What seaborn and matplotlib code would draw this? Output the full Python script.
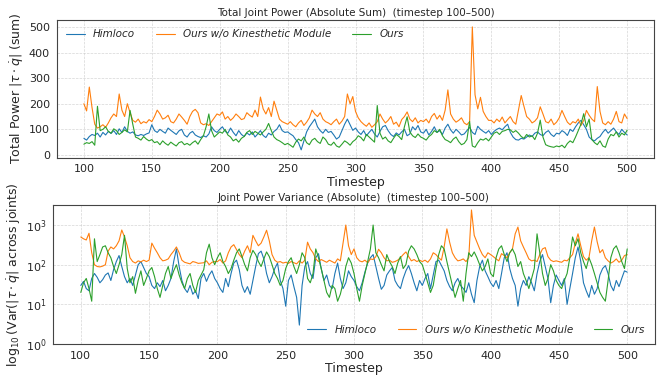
import numpy as np
import pandas as pd
import seaborn as sns
import matplotlib
matplotlib.use('Agg')
import matplotlib.pyplot as plt
from matplotlib.lines import Line2D

# one sample every 2 timesteps
timesteps = np.arange(100, 501, 2)
methods = ['Himloco', 'Ours w/o Kinesthetic Module', 'Ours']
colors = ['#1f77b4', '#ff7f0e', '#2ca02c']
xticks = [100, 150, 200, 250, 300, 350, 400, 450, 500]

# total joint power |tau * qdot| summed over joints
sum_himloco = [
    65, 58, 72, 80, 76, 85, 70, 88, 78, 92, 84, 95, 80, 102, 88, 110, 92, 85, 90, 78, 75, 80, 76, 82, 86,
    118, 95, 88, 100, 92, 85, 105, 96, 88, 80, 94, 100, 78, 70, 85, 92, 78, 72, 68, 75, 70, 82, 110, 95, 88,
    100, 110, 92, 85, 105, 88, 75, 95, 80, 72, 86, 78, 90, 70, 82, 95, 76, 68, 85, 78, 92, 100, 118, 95, 88,
    90, 82, 75, 60, 48, 20, 55, 90, 110, 125, 140, 110, 95, 85, 100, 88, 92, 78, 62, 70, 95, 120, 140, 118, 96,
    105, 90, 80, 95, 75, 88, 100, 82, 70, 92, 110, 115, 95, 80, 72, 86, 78, 90, 100, 75, 82, 110, 98, 115, 90,
    85, 100, 78, 92, 110, 88, 95, 80, 105, 120, 98, 85, 100, 90, 78, 82, 95, 108, 88, 80, 112, 100, 92, 85, 95,
    80, 92, 100, 105, 98, 110, 120, 88, 70, 60, 58, 65, 62, 70, 78, 72, 85, 90, 80, 75, 88, 95, 80, 72, 85,
    82, 95, 88, 76, 100, 92, 110, 125, 135, 118, 100, 70, 60, 55, 65, 72, 88, 100, 85, 95, 105, 90, 80, 100, 88,
    78]
sum_no_kin = [
    200, 172, 265, 185, 120, 105, 110, 118, 108, 125, 145, 160, 150, 238, 175, 150, 200, 165, 135, 128, 140, 122, 130, 125, 138,
    130, 150, 175, 160, 140, 145, 155, 130, 125, 140, 160, 148, 135, 120, 150, 170, 178, 165, 125, 118, 122, 115, 130, 145, 160,
    155, 168, 140, 150, 135, 145, 160, 150, 138, 142, 165, 155, 148, 175, 150, 226, 180, 160, 185, 150, 210, 175, 140, 130, 125,
    120, 130, 118, 110, 125, 135, 115, 128, 145, 175, 160, 150, 165, 140, 130, 125, 118, 130, 140, 120, 132, 150, 238, 200, 228,
    170, 145, 130, 120, 112, 125, 108, 118, 130, 160, 140, 125, 135, 150, 120, 128, 110, 138, 150, 168, 140, 130, 145, 125, 135,
    130, 140, 125, 150, 162, 140, 155, 135, 175, 254, 160, 140, 128, 135, 145, 125, 118, 130, 500, 235, 180, 225, 170, 150, 135,
    135, 125, 140, 130, 148, 125, 138, 150, 130, 120, 175, 232, 190, 150, 140, 125, 132, 145, 188, 160, 130, 125, 140, 118, 128,
    145, 174, 150, 128, 118, 130, 125, 140, 115, 135, 174, 155, 140, 130, 267, 170, 125, 118, 130, 120, 140, 170, 130, 125, 160,
    142]
sum_ours = [
    42, 48, 45, 52, 38, 190, 95, 100, 110, 92, 85, 102, 95, 80, 88, 98, 90, 174, 120, 70, 65, 58, 72, 62, 55,
    60, 48, 52, 40, 55, 45, 38, 50, 42, 35, 48, 52, 40, 45, 38, 48, 55, 42, 60, 75, 110, 160, 95, 70, 80,
    90, 85, 100, 78, 70, 55, 62, 50, 65, 72, 88, 95, 80, 92, 85, 78, 90, 100, 123, 95, 70, 60, 55, 48, 40,
    45, 38, 30, 50, 62, 55, 70, 48, 40, 58, 65, 52, 45, 70, 60, 42, 38, 50, 35, 30, 42, 55, 48, 38, 52,
    60, 75, 68, 55, 80, 70, 60, 50, 193, 85, 62, 70, 55, 48, 65, 80, 72, 60, 110, 149, 90, 75, 68, 82, 70,
    65, 58, 72, 80, 95, 88, 100, 75, 60, 55, 48, 62, 70, 52, 40, 45, 60, 131, 35, 30, 48, 62, 58, 65, 55,
    70, 85, 90, 80, 92, 95, 100, 98, 88, 95, 85, 72, 65, 80, 70, 75, 60, 85, 136, 70, 40, 35, 32, 30, 35,
    32, 38, 28, 45, 55, 48, 70, 95, 120, 161, 110, 140, 60, 48, 40, 55, 35, 30, 62, 80, 75, 90, 70, 85, 78,
    97]

# variance of |tau * qdot| across joints
var_himloco = [
    30, 38, 25, 22, 45, 60, 48, 35, 42, 55, 62, 40, 75, 120, 170, 90, 50, 35, 45, 30, 55, 100, 120, 85, 60,
    50, 30, 25, 35, 28, 40, 22, 30, 45, 120, 250, 90, 40, 25, 20, 30, 18, 22, 14, 45, 60, 38, 55, 70, 45,
    35, 25, 20, 45, 28, 60, 110, 130, 75, 30, 20, 28, 18, 40, 90, 190, 220, 140, 60, 35, 50, 80, 110, 40, 25,
    9, 40, 55, 28, 15, 3, 30, 90, 120, 60, 45, 150, 190, 80, 40, 55, 30, 25, 60, 110, 45, 25, 35, 70, 50,
    40, 28, 22, 35, 65, 110, 150, 180, 90, 45, 24, 30, 55, 70, 85, 40, 30, 25, 45, 70, 95, 60, 35, 22, 40,
    30, 45, 60, 25, 55, 120, 130, 95, 70, 40, 28, 22, 35, 45, 30, 25, 20, 35, 18, 11, 40, 90, 130, 70, 50,
    35, 28, 40, 25, 60, 150, 200, 80, 45, 30, 9, 25, 40, 30, 50, 35, 22, 60, 120, 180, 90, 45, 11, 30, 55,
    40, 30, 45, 10, 25, 60, 150, 280, 120, 35, 22, 15, 30, 18, 25, 55, 80, 95, 60, 30, 22, 40, 28, 45, 70,
    65]
var_no_kin = [
    500, 450, 420, 620, 200, 100, 90, 88, 92, 100, 220, 280, 250, 300, 400, 750, 500, 300, 150, 120, 110, 125, 118, 130, 120,
    130, 350, 260, 200, 150, 125, 130, 140, 180, 220, 280, 200, 130, 115, 110, 105, 120, 115, 108, 110, 112, 125, 100, 115, 120,
    120, 135, 110, 125, 200, 280, 320, 240, 180, 150, 220, 300, 200, 550, 400, 300, 350, 500, 740, 400, 180, 130, 115, 120, 110,
    115, 108, 120, 112, 105, 125, 110, 130, 370, 250, 200, 140, 120, 135, 125, 115, 130, 120, 110, 140, 125, 350, 1000, 300, 180,
    250, 150, 125, 118, 130, 112, 140, 135, 160, 245, 200, 150, 125, 130, 115, 120, 130, 150, 180, 210, 160, 125, 135, 120, 130,
    120, 130, 115, 140, 200, 180, 150, 130, 280, 800, 370, 200, 150, 125, 130, 140, 120, 150, 2400, 550, 370, 250, 180, 150, 200,
    180, 160, 140, 125, 190, 170, 150, 200, 250, 600, 890, 400, 280, 200, 140, 125, 130, 120, 180, 250, 270, 160, 130, 120, 125,
    120, 115, 130, 125, 150, 180, 350, 600, 300, 160, 130, 150, 400, 890, 380, 200, 240, 150, 125, 110, 120, 140, 115, 130, 170,
    180]
var_ours = [
    20, 35, 45, 25, 12, 450, 120, 180, 280, 300, 200, 150, 90, 60, 100, 180, 550, 80, 35, 50, 19, 40, 70, 30, 45,
    70, 85, 50, 25, 15, 30, 60, 90, 45, 70, 100, 55, 35, 25, 45, 60, 30, 20, 40, 55, 75, 200, 330, 150, 100,
    150, 200, 120, 90, 60, 80, 130, 200, 250, 160, 100, 70, 150, 230, 180, 120, 90, 140, 210, 160, 100, 60, 45, 30, 40,
    80, 120, 150, 90, 60, 100, 200, 150, 45, 35, 60, 250, 150, 80, 40, 20, 15, 30, 25, 12, 18, 35, 90, 150, 110,
    60, 25, 12, 30, 60, 120, 250, 1000, 200, 150, 100, 70, 180, 120, 90, 60, 110, 160, 80, 100, 220, 300, 250, 180, 120,
    100, 60, 35, 20, 30, 80, 180, 300, 250, 120, 60, 30, 15, 25, 40, 12, 60, 200, 160, 210, 150, 100, 70, 90, 140,
    60, 50, 150, 250, 300, 180, 120, 200, 250, 180, 90, 120, 60, 40, 25, 45, 80, 600, 200, 60, 30, 45, 100, 70, 40,
    30, 25, 40, 60, 150, 500, 300, 450, 200, 120, 80, 150, 100, 60, 35, 20, 15, 12, 40, 150, 250, 300, 200, 120, 80,
    250]


def long_table(series):
    frames = []
    for name, vals in zip(methods, series):
        frames.append(pd.DataFrame({'Timestep': timesteps, 'value': vals, 'Method': name}))
    return pd.concat(frames, ignore_index=True)


def main():
    sns.set_style('white')
    plt.rcParams['font.family'] = ['DejaVu Sans']
    fig, ax = plt.subplots(2, 1, figsize=(6.61, 3.77), dpi=100)

    tables = [long_table([sum_himloco, sum_no_kin, sum_ours]),
              long_table([var_himloco, var_no_kin, var_ours])]
    titles = ['Total Joint Power (Absolute Sum)  (timestep 100\u2013500)',
              'Joint Power Variance (Absolute)  (timestep 100\u2013500)']
    ylabels = [r'Total Power $|\tau \cdot \dot{q}|$ (sum)',
               r'$\log_{10}$(Var($|\tau \cdot \dot{q}|$ across joints)']

    for i in range(2):
        a = ax[i]
        sns.lineplot(data=tables[i], x='Timestep', y='value', hue='Method', hue_order=methods,
                     palette=colors, linewidth=0.8, ax=a, legend=False)
        a.set_title(titles[i], fontsize=7.5, pad=3)
        a.set_xlabel('Timestep', fontsize=9, labelpad=1)
        a.set_ylabel(ylabels[i], fontsize=9, labelpad=2)
        a.set_xticks(xticks)
        a.set_xlim(80, 520)
        a.tick_params(axis='both', which='major', labelsize=8, length=3, width=0.7, pad=2)
        a.grid(True, which='major', linestyle='--', linewidth=0.5, color='#cccccc', alpha=0.8)
        for s in a.spines.values():
            s.set_color('#444444')
            s.set_linewidth(0.8)

    ax[0].set_ylim(-10, 527)
    ax[1].set_yscale('log')
    ax[1].set_ylim(1, 3200)
    ax[1].tick_params(axis='y', which='minor', left=False)

    handles = [Line2D([0], [0], color=c, lw=0.8) for c in colors]
    leg_kw = dict(ncol=3, frameon=False, handlelength=1.8,
                  prop={'style': 'italic', 'size': 7.5})
    ax[0].legend(handles, methods, loc='upper left', **leg_kw)
    ax[1].legend(handles, methods, loc='lower right', **leg_kw)

    ax[0].set_position([0.0858, 0.5822, 0.9041, 0.3648])
    ax[1].set_position([0.0809, 0.0875, 0.9093, 0.3687])
    plt.savefig('out.png', dpi=100)


if __name__ == '__main__':
    main()
